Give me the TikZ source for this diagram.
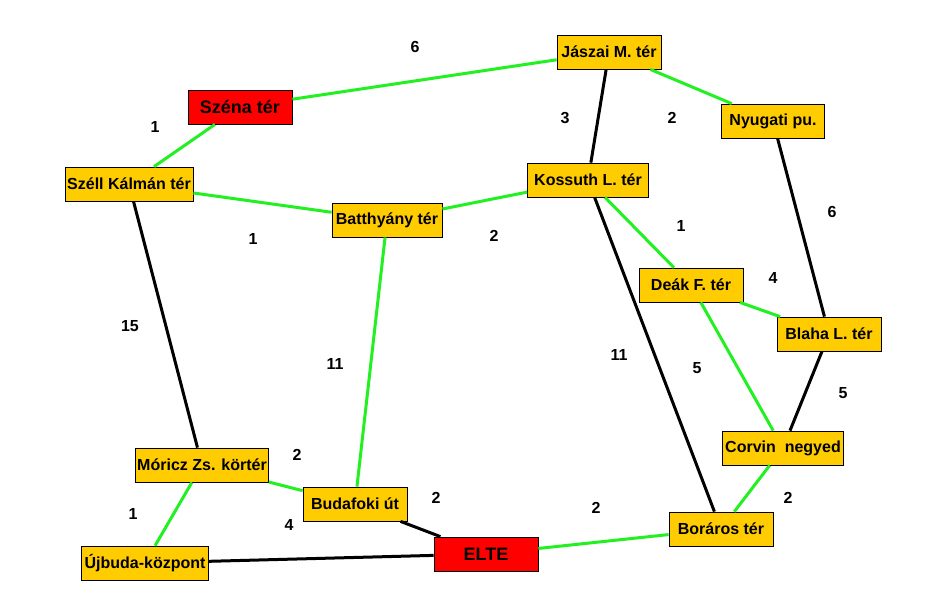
\documentclass[tikz,border=0pt]{standalone}
\usepackage{fontspec}
\setmainfont{Liberation Sans}
\usepackage{tikz}
\usetikzlibrary{arrows.meta}
\definecolor{stnyellow}{HTML}{FFCC00}
\definecolor{stnred}{HTML}{FF0000}
\definecolor{edgegreen}{HTML}{22F022}

\begin{document}
\begin{tikzpicture}[x=1pt,y=-1pt,
  stn/.style={draw=black, line width=0.8pt, fill=stnyellow, inner sep=0pt,
    minimum height=34pt, font=\fontsize{16}{18}\selectfont\bfseries},
  endstn/.style={stn, fill=stnred, font=\fontsize{18}{20}\selectfont\bfseries},
  gline/.style={edgegreen, line width=3pt},
  bline/.style={black, line width=3pt},
  wt/.style={font=\fontsize{16}{18}\selectfont\bfseries}]
\useasboundingbox (0,0) rectangle (946,611);
% stations
\node[endstn, minimum width=104] (szena)   at (240,107) {Széna tér};
\node[stn, minimum width=128]    (szell)   at (129,184) {Széll Kálmán tér};
\node[stn, minimum width=110]    (batth)   at (387,220) {Batthyány tér};
\node[stn, minimum width=104]    (jaszai)  at (609,52)  {Jászai M. tér};
\node[stn, minimum width=103]    (nyugati) at (773,121) {Nyugati pu.};
\node[stn, minimum width=121]    (kossuth) at (588,180) {Kossuth L. tér};
\node[stn, minimum width=104]    (deak)    at (691,285) {Deák F. tér};
\node[stn, minimum width=104]    (blaha)   at (829,334) {Blaha L. tér};
\node[stn, minimum width=121]    (corvin)  at (783,448) {Corvin\ \ negyed};
\node[stn, minimum width=104]    (boraros) at (721,529) {Boráros tér};
\node[endstn, minimum width=104] (elte)    at (486,554) {ELTE};
\node[stn, minimum width=133]    (moricz)  at (202,465) {Móricz Zs. körtér};
\node[stn, minimum width=104]    (budafok) at (355,504) {Budafoki út};
\node[stn, minimum width=127]    (ujbuda)  at (145,563) {Újbuda-központ};
% green edges
\draw[gline] (szena) -- (jaszai);
\draw[gline] (szell) -- (szena);
\draw[gline] (szell) -- (batth);
\draw[gline] (batth) -- (kossuth);
\draw[gline] (jaszai) -- (nyugati);
\draw[gline] (kossuth) -- (deak);
\draw[gline] (deak) -- (blaha);
\draw[gline] (deak) -- (corvin);
\draw[gline] (corvin) -- (boraros);
\draw[gline] (boraros) -- (elte);
\draw[gline] (batth) -- (budafok);
\draw[gline] (moricz) -- (budafok);
\draw[gline] (moricz) -- (ujbuda);
% black edges
\draw[bline] (jaszai) -- (kossuth);
\draw[bline] (nyugati) -- (blaha);
\draw[bline] (kossuth) -- (boraros);
\draw[bline] (blaha) -- (corvin);
\draw[bline] (elte) -- (budafok);
\draw[bline] (elte) -- (ujbuda);
\draw[bline] (szell) -- (moricz);
% weights
\node[wt] (w1)  at (415,47)  {6};
\node[wt] (w2)  at (155,127) {1};
\node[wt] (w3)  at (565,118) {3};
\node[wt] (w4)  at (672,118) {2};
\node[wt] (w5)  at (832,212) {6};
\node[wt] (w6)  at (253,239) {1};
\node[wt] (w7)  at (494,236) {2};
\node[wt] (w8)  at (681,226) {1};
\node[wt] (w9)  at (773,278) {4};
\node[wt] (w10) at (130,326) {15};
\node[wt] (w11) at (335,364) {11};
\node[wt] (w12) at (619,355) {11};
\node[wt] (w13) at (697,368) {5};
\node[wt] (w14) at (843,393) {5};
\node[wt] (w15) at (297,455) {2};
\node[wt] (w16) at (436,498) {2};
\node[wt] (w17) at (596,508) {2};
\node[wt] (w18) at (788,498) {2};
\node[wt] (w19) at (133,514) {1};
\node[wt] (w20) at (289,525) {4};
\end{tikzpicture}
\end{document}
